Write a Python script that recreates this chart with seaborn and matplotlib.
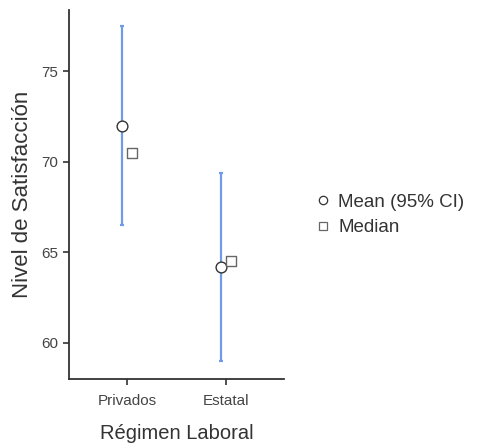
import matplotlib
matplotlib.use("Agg")
import matplotlib.pyplot as plt
import numpy as np
import pandas as pd
import seaborn as sns
from matplotlib.lines import Line2D

sns.set_theme(style="ticks")
plt.rcParams["font.family"] = ["Liberation Sans", "DejaVu Sans"]

# summary values
groups = ["Privados", "Estatal"]
means = [72.0, 64.2]
ci_low = [66.5, 59.0]
ci_high = [77.5, 69.4]
medians = [70.5, 64.5]

TEXT = "#333333"
LINE = "#6f9be8"
EDGE = "#333333"
MED_EDGE = "#666666"

df = pd.DataFrame(
    {"group": groups, "mean": means, "lo": ci_low, "hi": ci_high, "median": medians}
)
df["pos"] = np.arange(len(df))
df["pos_mean"] = df["pos"] - 0.05
df["pos_med"] = df["pos"] + 0.05

fig = plt.figure(figsize=(4.79, 4.48), dpi=100)
ax = fig.add_axes([0.144, 0.154, 0.449, 0.824])

ax.errorbar(
    df["pos_mean"],
    df["mean"],
    yerr=[df["mean"] - df["lo"], df["hi"] - df["mean"]],
    fmt="none",
    ecolor=LINE,
    elinewidth=1.6,
    capsize=1.5,
    capthick=1.6,
    zorder=1,
)
sns.scatterplot(
    data=df, x="pos_mean", y="mean", ax=ax, marker="o", s=60,
    facecolor="white", edgecolor=EDGE, linewidth=1.0, zorder=3,
)
sns.scatterplot(
    data=df, x="pos_med", y="median", ax=ax, marker="s", s=45,
    facecolor="white", edgecolor=MED_EDGE, linewidth=1.0, zorder=3,
)

ax.set_xlim(-0.586, 1.586)
ax.set_ylim(58.0, 78.4)
ax.set_xticks(df["pos"])
ax.set_xticklabels(df["group"])
ax.set_yticks([60, 65, 70, 75])
ax.tick_params(colors=TEXT, labelsize=11, length=4, width=1.2, labelcolor="#444444")
ax.tick_params(axis="x", pad=7)
for side in ["left", "bottom"]:
    ax.spines[side].set_color(EDGE)
    ax.spines[side].set_linewidth(1.3)
sns.despine(ax=ax)

ax.set_xlabel("Régimen Laboral", fontsize=14.5, color=TEXT, labelpad=11)
ax.set_ylabel("Nivel de Satisfacción", fontsize=16, color=TEXT, labelpad=6)

handles = [
    Line2D([], [], linestyle="none", marker="o", markersize=6,
           markerfacecolor="white", markeredgecolor=EDGE, markeredgewidth=0.9),
    Line2D([], [], linestyle="none", marker="s", markersize=6,
           markerfacecolor="white", markeredgecolor=MED_EDGE, markeredgewidth=0.9),
]
leg = fig.legend(
    handles, ["Mean (95% CI)", "Median"], loc="center left",
    bbox_to_anchor=(0.62, 0.52), frameon=False, fontsize=13.5,
    handlelength=1.0, handletextpad=0.3, labelspacing=0.45,
)
for t in leg.get_texts():
    t.set_color(TEXT)

fig.savefig("out.png", dpi=100)
